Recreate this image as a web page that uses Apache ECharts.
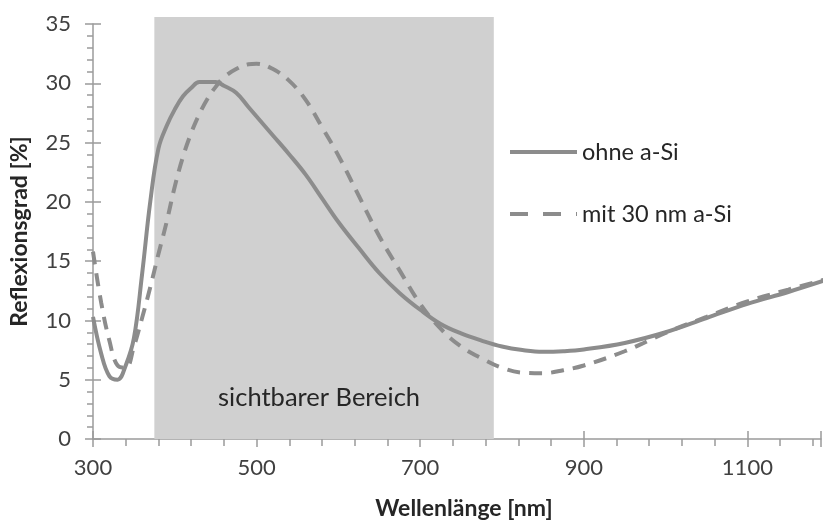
<!DOCTYPE html>
<html>
<head>
<meta charset="utf-8">
<script src="https://cdn.jsdelivr.net/npm/echarts@6/dist/echarts.min.js"></script>
<style>
  html, body { margin: 0; padding: 0; background: #fff; }
  #main { width: 824px; height: 525px; }
</style>
</head>
<body>
<div id="main"></div>
<script>
// Wellenlänge [nm]
var wavelength = [300, 310, 320, 330, 340, 350, 360, 370, 380, 390, 400, 410, 420, 430, 440, 450, 460,
  475, 490, 500, 520, 540, 560, 580, 600, 625, 650, 675, 700, 725, 750, 775, 800, 825, 850, 875, 900,
  950, 1000, 1050, 1100, 1150, 1200];
// Reflexionsgrad [%] ohne a-Si
var ohneASi = [10.3, 7.2, 5.3, 5.0, 6.2, 8.5, 13.9, 20.0, 24.5, 26.4, 27.8, 28.9, 29.6, 30.1, 30.1, 30.1, 29.8,
  29.2, 28.0, 27.2, 25.6, 24.0, 22.3, 20.3, 18.3, 16.1, 14.0, 12.3, 10.9, 9.7, 8.9, 8.3, 7.8, 7.5, 7.35, 7.4, 7.55,
  8.1, 9.0, 10.2, 11.4, 12.4, 13.5];
// Reflexionsgrad [%] mit 30 nm a-Si
var mitASi = [15.8, 11.5, 8.3, 6.2, 6.0, 7.8, 10.2, 12.8, 15.6, 18.3, 21.3, 23.8, 25.8, 27.4, 28.7, 29.7, 30.5,
  31.2, 31.6, 31.65, 31.2, 30.2, 28.6, 26.3, 23.9, 20.5, 17.1, 14.2, 11.4, 9.3, 7.8, 6.8, 6.0, 5.6, 5.55, 5.8, 6.2,
  7.4, 8.95, 10.3, 11.6, 12.6, 13.55];
// sichtbarer Bereich: von, bis [nm], Oberkante [%]
var visibleRange = [375, 790, 35.6];
var visibleLabel = 'sichtbarer Bereich';

var lineColor = '#8c8c8c';
var axisColor = '#9b9b9b';
var font = 'Lato';

function pairs(xs, ys) {
  return xs.map(function (x, i) { return [x, ys[i]]; });
}

var myChart = echarts.init(document.getElementById('main'));

// legend: nur Linie, kein Punkt in der Mitte
var noDot = { color: 'transparent', borderColor: 'transparent', borderWidth: 0, opacity: 0 };

myChart.setOption({
  animation: false,
  grid: { left: 91, right: 0, top: 24, bottom: 83 },
  legend: {
    orient: 'vertical',
    left: 508,
    top: 140,
    padding: 0,
    itemWidth: 67,
    itemHeight: 14,
    itemGap: 38,
    textStyle: { fontFamily: font, fontSize: 23.5, color: '#262626' },
    data: [
      { name: 'ohne a-Si', lineStyle: { width: 4 }, itemStyle: noDot },
      { name: 'mit 30 nm a-Si', lineStyle: { width: 4, type: [18, 15] }, itemStyle: noDot }
    ]
  },
  xAxis: [
    {
      type: 'value',
      min: 300, max: 1190, interval: 200,
      name: 'Wellenlänge [nm]',
      nameLocation: 'middle',
      nameGap: 58,
      nameTextStyle: { fontFamily: font, fontSize: 23, fontWeight: 'bold', color: '#262626', padding: [0, 0, 0, 14] },
      axisLine: { lineStyle: { color: axisColor, width: 1.5 } },
      axisTick: { length: 8, lineStyle: { color: axisColor, width: 1.5 } },
      minorTick: { show: true, splitNumber: 5, length: 7, lineStyle: { color: axisColor, width: 1.5 } },
      axisLabel: { fontFamily: font, fontSize: 22, color: '#404040', margin: 18,
        formatter: function (v) { return v % 200 === 100 ? String(v) : ''; } },
      splitLine: { show: false }
    },
    {
      type: 'value',
      position: 'bottom',
      min: 300, max: 1190, interval: 200,
      axisLine: { show: false },
      axisTick: { inside: true, length: 8, lineStyle: { color: axisColor, width: 1.5 } },
      axisLabel: { show: false },
      splitLine: { show: false }
    }
  ],
  yAxis: [
    {
      type: 'value',
      min: 0, max: 35, interval: 5,
      name: 'Reflexionsgrad [%]',
      nameLocation: 'middle',
      nameGap: 62,
      nameTextStyle: { fontFamily: font, fontSize: 23, fontWeight: 'bold', color: '#262626' },
      axisLine: { show: true, lineStyle: { color: axisColor, width: 1.5 } },
      axisTick: { show: true, length: 8, lineStyle: { color: axisColor, width: 1.5 } },
      minorTick: { show: true, splitNumber: 5, length: 6, lineStyle: { color: axisColor, width: 1.5 } },
      axisLabel: { fontFamily: font, fontSize: 22, color: '#404040', margin: 22 },
      splitLine: { show: false }
    },
    {
      type: 'value',
      position: 'left',
      min: 0, max: 35, interval: 5,
      axisLine: { show: false },
      axisTick: { show: true, inside: true, length: 8, lineStyle: { color: axisColor, width: 1.5 } },
      axisLabel: { show: false },
      splitLine: { show: false }
    }
  ],
  series: [
    {
      name: 'sichtbar',
      type: 'custom',
      z: 1,
      silent: true,
      clip: false,
      data: [visibleRange],
      renderItem: function (params, api) {
        var p0 = api.coord([api.value(0), 0]);
        var p1 = api.coord([api.value(1), api.value(2)]);
        var mid = api.coord([(api.value(0) + api.value(1)) / 2, 3.5]);
        return {
          type: 'group',
          children: [
            {
              type: 'rect',
              shape: { x: p0[0], y: p1[1], width: p1[0] - p0[0], height: p0[1] - p1[1] },
              style: { fill: '#d0d0d0' }
            },
            {
              type: 'text',
              style: {
                x: mid[0] - 5, y: mid[1],
                text: visibleLabel,
                font: '25.5px Lato',
                fill: '#262626',
                align: 'center',
                verticalAlign: 'middle'
              }
            }
          ]
        };
      }
    },
    {
      name: 'ohne a-Si',
      type: 'line',
      z: 3,
      smooth: 0.4,
      symbol: 'none',
      color: lineColor,
      lineStyle: { width: 4, color: lineColor },
      data: pairs(wavelength, ohneASi)
    },
    {
      name: 'mit 30 nm a-Si',
      type: 'line',
      z: 3,
      smooth: 0.4,
      symbol: 'none',
      color: lineColor,
      lineStyle: { width: 4, color: lineColor, type: [13, 9] },
      data: pairs(wavelength, mitASi)
    }
  ]
});
</script>
</body>
</html>
